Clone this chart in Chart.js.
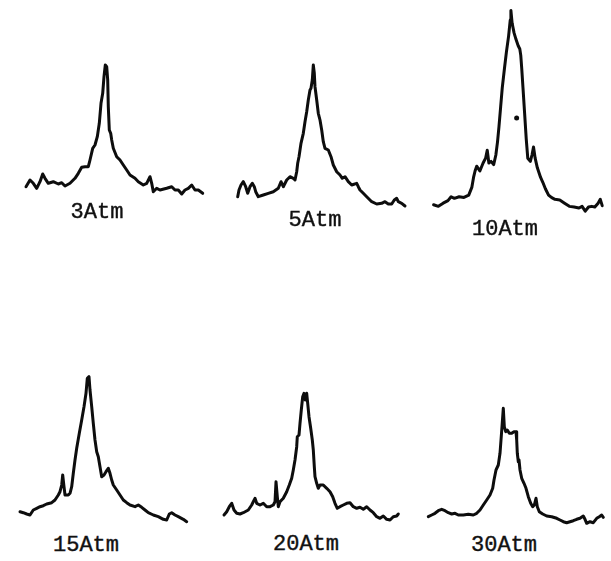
<!DOCTYPE html>
<html>
<head>
<meta charset="utf-8">
<script src="https://cdn.jsdelivr.net/npm/chart.js@4/dist/chart.umd.min.js"></script>
<style>
    html, body { margin: 0; padding: 0; background: #fff; }
    #page { position: relative; width: 611px; height: 561px; overflow: hidden; }
    .panel { position: absolute; }
    .etiqueta {
        position: absolute;
        font-family: "Liberation Mono", "DejaVu Sans Mono", monospace;
        font-size: 22px;
        color: #111;
        transform: translate(-50%, -50%);
        white-space: nowrap;
        -webkit-text-stroke: 0.4px #111;
    }
</style>
</head>
<body>
<div id="page"></div>
<script>
// presiones (etiquetas de cada espectro)
const etiquetas = ["3Atm", "5Atm", "10Atm", "15Atm", "20Atm", "30Atm"];

// desplazamiento (unidades arbitrarias) e intensidad
const shift3 = [16, 20, 23.3, 26.7, 30, 32.7, 35, 38.3, 43.3, 48.3, 51.7, 55, 60, 65, 68.3, 71.7, 75, 78.3, 80, 82.7, 85, 87.3, 89.3, 91, 92.7, 94, 95.3, 96.7, 97.7, 98.3, 99.3, 100.7, 101.7, 103.3, 106.7, 110, 113.3, 116.7, 120, 125, 128.3, 133.3, 136.7, 140, 141.7, 143.3, 146.7, 150, 156.7, 161.7, 165, 168.3, 171.7, 175, 178.3, 181.7, 185, 188.3, 192.7];
const int3 = [33.3, 40, 36.7, 31.7, 38.3, 46, 41.7, 36.7, 38.3, 36, 37.3, 34, 36.7, 41.7, 46.7, 52.7, 53.3, 53.3, 60, 71.7, 75, 83.3, 96.7, 116.7, 126.7, 143.3, 155, 153.3, 140, 113.3, 90, 86.7, 80, 71.7, 63.3, 60, 55, 50, 45, 41.7, 38.3, 35, 36.7, 43.3, 36.7, 28.3, 31.7, 30, 31.7, 33.3, 30, 30, 26, 30, 31.7, 35, 30, 30, 26.7];

const shift5 = [17.7, 19, 21, 23.3, 25.7, 27.7, 30, 32.3, 34.3, 35.7, 38.3, 43.3, 48.3, 53.3, 58.3, 61, 63.3, 66.7, 70, 73.3, 75, 76.7, 77.7, 79, 81, 83.3, 85, 86.7, 88.3, 90, 91, 92.3, 93.3, 94.3, 95, 96.7, 98.3, 100, 101.7, 103.3, 105, 108.3, 111, 113.3, 116.7, 120, 122.3, 125, 128.3, 131.7, 136.7, 138.3, 140, 143.3, 146.7, 151.7, 156.7, 161.7, 165, 168.3, 171.7, 174.3, 176.7, 178.3, 181.7, 185];
const int5 = [23.3, 30, 35, 38.3, 33.3, 26.7, 33.3, 36.7, 33.3, 28.3, 23.3, 25, 26.7, 28.3, 31.7, 38.3, 33.3, 40, 43.3, 41.7, 40, 48.3, 56.7, 63.3, 76.7, 86.7, 98.3, 108.3, 120, 130, 131.7, 140, 155, 146.7, 133.3, 120, 106.7, 100, 90, 78.3, 71.7, 70, 63.3, 55, 48.3, 45, 41.7, 43.3, 38.3, 35, 36.7, 33.3, 30, 26.7, 23.3, 18.3, 16, 16.7, 18.3, 16, 16, 20, 21.7, 18.3, 16.7, 14];

const shift10 = [10, 15, 20, 25, 28.3, 31.7, 36.7, 41.7, 46.7, 50, 51.7, 53.3, 55, 58.3, 61.7, 64.3, 66, 67.7, 70, 72.7, 75, 76.7, 78.3, 80, 81.7, 84, 86, 88.3, 90, 90.7, 92, 94, 96, 98.3, 100, 101, 102, 103.3, 105, 106.7, 108.3, 111, 112.7, 114.3, 116, 118.3, 121.7, 124, 126.7, 130, 133.3, 136.7, 141.7, 146.7, 151.7, 156.7, 161.7, 165, 168.3, 171.7, 175, 178.3, 181.7, 184, 186];
const int10 = [11.7, 10, 13.3, 16, 20, 18.3, 20, 19.3, 21.7, 30, 40, 46.7, 51.7, 46.7, 55, 60, 68.3, 55, 56.7, 53.3, 63.3, 76.7, 93.3, 113.3, 133.3, 153.3, 170, 186.7, 203.3, 213.3, 200, 190, 183.3, 176.7, 173.3, 166.7, 153.3, 133.3, 106.7, 80, 60, 56.7, 63.3, 71.7, 60, 50, 40, 35, 28.3, 21.7, 19, 17.3, 16.7, 13.3, 10, 9.3, 8.3, 10, 5, 9.3, 10, 9.3, 13.3, 17.3, 10.7];
// punto aislado dentro del pico de 10Atm
const shiftPunto10 = [96.7];
const intPunto10 = [101.7];

const shift15 = [10, 13.3, 16.7, 20, 23.3, 26.7, 30, 33.3, 36.7, 41.7, 45, 48.3, 50, 51.7, 52.7, 54, 55, 58.3, 60, 61.7, 63.3, 65, 66.7, 69.3, 71.7, 74, 76, 77.3, 79, 80, 81.7, 83.3, 85, 86.7, 88.3, 90, 91.7, 94, 96, 98.3, 100, 101.7, 103.3, 106.7, 110, 113.3, 116.7, 120, 125, 128.3, 131.7, 135, 138.3, 143.3, 148.3, 153.3, 156.7, 159.3, 161.7, 165, 168.3, 173.3, 176.7];
const int15 = [18.3, 17.3, 16, 15, 20, 21.7, 23.3, 24.3, 26, 27.3, 30, 35, 38.3, 45, 55, 43.3, 35, 35, 36.7, 43.3, 56.7, 70, 81.7, 96.7, 110, 123.3, 136.7, 151.7, 153.3, 140, 123.3, 106.7, 90, 78.3, 73.3, 63.3, 53.3, 55, 58.3, 61.7, 56.7, 50, 45, 40, 35, 30, 27.3, 25, 23.3, 25, 22.7, 20, 17.3, 15, 13.3, 10.7, 10, 16, 17.3, 15, 13.3, 10.7, 8.3];

const shift20 = [4, 6.7, 9.3, 11.7, 14, 16.7, 20, 23.3, 28.3, 31.7, 33.3, 35, 36.7, 40, 43.3, 46.7, 50, 53.3, 55, 56, 57.3, 58.3, 60, 63.3, 66.7, 69.3, 71.7, 73.3, 75, 76.7, 77.3, 79, 80, 81.3, 82.7, 84, 85.3, 86.7, 87.7, 89, 90.7, 92.3, 93.3, 94.3, 95, 96.7, 98.3, 100, 103.3, 106.7, 110, 112.7, 115, 117.3, 120, 123.3, 126.7, 130, 133.3, 136.7, 140, 143.3, 146.7, 150, 153.3, 156.7, 160, 163.3, 166.7, 170, 173.3, 176.7, 178.3];
const int20 = [15, 18.3, 23.3, 26.7, 20, 16.7, 16, 17.3, 20, 25, 28.3, 31.7, 26.7, 25, 26.7, 23.3, 23.3, 25, 28.3, 48.3, 33.3, 23.3, 28.3, 31.7, 38.3, 45, 51.7, 60, 70, 83.3, 93.3, 95, 106.7, 120, 133.3, 136.7, 130, 136.7, 126.7, 113.3, 101.7, 90, 80, 63.3, 53.3, 46.7, 41.7, 45, 45, 41.7, 38.3, 33.3, 26.7, 21.7, 23.3, 25, 26.7, 27.3, 23.3, 21.7, 22.7, 20.7, 23.3, 20, 17.3, 13.3, 11.7, 14, 10.7, 10, 13.3, 14, 16];

const shift30 = [8.3, 11.7, 15, 18.3, 21.7, 25, 28.3, 31.7, 35, 38.3, 43.3, 48.3, 53.3, 56.7, 60, 63.3, 66.7, 70, 72.7, 74, 76, 78.3, 80, 81, 82, 83.3, 84.3, 85.7, 87.3, 89.3, 91.7, 94, 96, 96.7, 97.3, 98.3, 99, 100, 101.7, 104, 106, 108.3, 110.7, 112.7, 114.3, 116, 117.3, 119.3, 122.7, 126.7, 131.7, 136.7, 140, 143.3, 146.7, 150, 153.3, 156.7, 160, 163.3, 165, 166.7, 170, 173.3, 176.7, 179.3, 181.7, 183.3];
const int30 = [13.3, 15, 16.7, 19.3, 20.7, 19.3, 17.3, 16, 16.7, 15, 15, 15.7, 15, 16.7, 20, 25, 30, 35, 41.7, 50, 60, 65, 76.7, 90, 103.3, 121.7, 103.3, 98.3, 100, 96.7, 96.7, 98.3, 98.3, 90, 76.7, 68.3, 70, 60, 51.7, 46.7, 41.7, 33.3, 26.7, 23.3, 25, 31.7, 23.3, 18.3, 16, 14, 13.3, 11.7, 10, 8.3, 7.3, 8.3, 9.3, 10.7, 11.7, 14, 10.7, 6.7, 8.3, 7.3, 11.7, 13.3, 15, 12.7];

// posicion de cada panel en la hoja
const paneles = [
    { shift: shift3, int: int3, left: 10, top: 0, width: 200, height: 220, labelX: 97, labelY: 212 },
    { shift: shift5, int: int5, left: 220, top: 0, width: 200, height: 220, labelX: 315, labelY: 220 },
    { shift: shift10, int: int10, left: 420, top: 0, width: 191, height: 220, labelX: 505, labelY: 229 },
    { shift: shift15, int: int15, left: 10, top: 360, width: 200, height: 170, labelX: 86, labelY: 545 },
    { shift: shift20, int: int20, left: 220, top: 360, width: 200, height: 170, labelX: 306, labelY: 544 },
    { shift: shift30, int: int30, left: 420, top: 360, width: 191, height: 170, labelX: 504, labelY: 545 }
];

const page = document.getElementById("page");

paneles.forEach((panel, index) => {
    const div = document.createElement("div");
    div.classList.add("panel");
    div.style.left = panel.left + "px";
    div.style.top = panel.top + "px";

    const canvas = document.createElement("canvas");
    canvas.width = panel.width;
    canvas.height = panel.height;
    canvas.style.width = panel.width + "px";
    canvas.style.height = panel.height + "px";
    div.appendChild(canvas);
    page.appendChild(div);

    const texto = document.createElement("div");
    texto.classList.add("etiqueta");
    texto.style.left = panel.labelX + "px";
    texto.style.top = panel.labelY + "px";
    texto.textContent = etiquetas[index];
    page.appendChild(texto);

    const datasets = [{
        data: panel.shift.map((x, i) => ({ x: x, y: panel.int[i] })),
        borderColor: "#0d0d0d",
        borderWidth: 3,
        borderJoinStyle: "round",
        borderCapStyle: "round",
        pointRadius: 0,
        showLine: true,
        tension: 0,
        fill: false
    }];

    if (index === 2) {
        datasets.push({
            data: shiftPunto10.map((x, i) => ({ x: x, y: intPunto10[i] })),
            pointRadius: 2.5,
            pointBackgroundColor: "#0d0d0d",
            pointBorderWidth: 0,
            showLine: false
        });
    }

    new Chart(canvas.getContext("2d"), {
        type: "scatter",
        data: { datasets: datasets },
        options: {
            responsive: false,
            animation: false,
            layout: { padding: 0 },
            scales: {
                x: { type: "linear", display: false, min: 0, max: panel.width },
                y: { type: "linear", display: false, min: 0, max: panel.height }
            },
            plugins: {
                legend: { display: false },
                tooltip: { enabled: false }
            }
        }
    });
});
</script>
</body>
</html>
